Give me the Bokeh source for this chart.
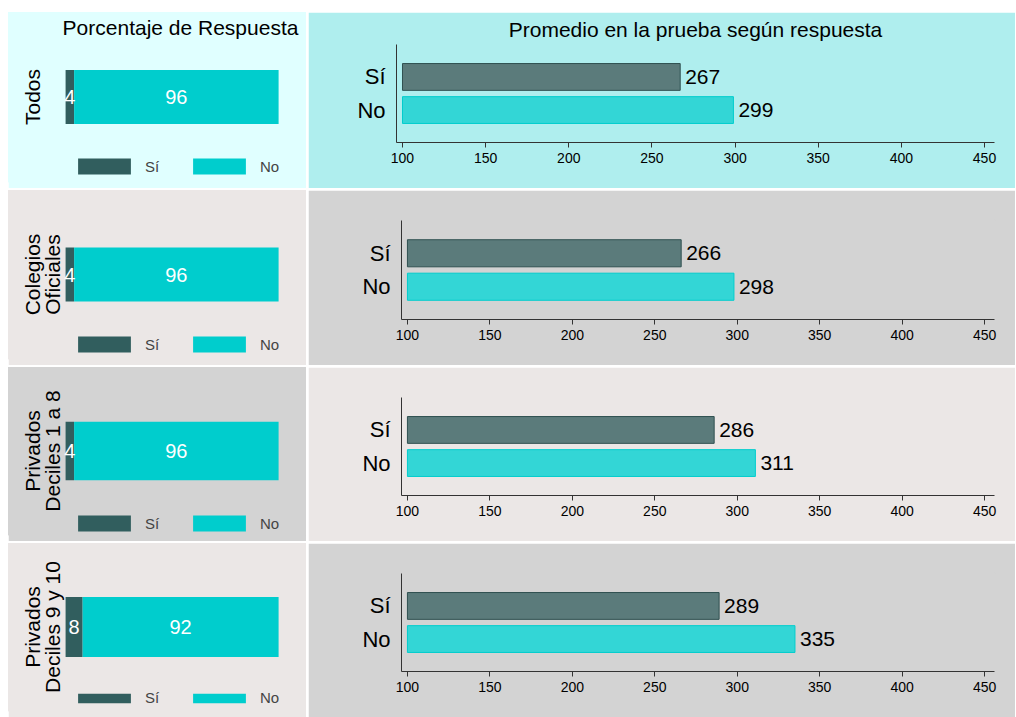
import math
from bokeh.plotting import figure
from bokeh.models import (ColumnDataSource, FactorRange, Range1d, LabelSet, Label,
                          Legend, LegendItem, FixedTicker)
from bokeh.transform import factor_cmap
from bokeh.layouts import row, column
from bokeh.embed import file_html
from bokeh.resources import INLINE
from bokeh.core.properties import value

# ---------------- data ----------------
groups = ["Todos", "Colegios\nOficiales", "Privados\nDeciles 1 a 8", "Privados\nDeciles 9 y 10"]
answers = ["Sí", "No"]
pct_si = [4, 4, 4, 8]
pct_no = [96, 96, 96, 92]
mean_si = [267, 266, 286, 289]
mean_no = [299, 298, 311, 335]
mean_base = 100
x_ticks = [100, 150, 200, 250, 300, 350, 400, 450]
left_title = "Porcentaje de Respuesta"
right_title = "Promedio en la prueba según respuesta"

# ---------------- style ----------------
FONT = "Liberation Sans"
C_SI = "#315e5e"
C_NO = "#00cdcd"
C_SI_R = "#5b7b7b"
C_SI_R_LINE = "#2f5050"
C_NO_R = "#33d6d6"
C_NO_R_LINE = "#00cdcd"
left_bg = ["#e0ffff", "#ebe7e6", "#d3d3d3", "#ebe7e6"]
right_bg = ["#afeeee", "#d3d3d3", "#ebe7e6", "#d3d3d3"]
row_h = [176, 175, 174, 174]
left_bar_h = [0.32, 0.32, 0.35, 0.36]
leg_y = [5, 4, 1, 4]
leg_gh = [20, 20, 20, 12]
right_min_left = [88, 93, 93, 93]
LW, RW = 298, 707

rows = []
for i, g in enumerate(groups):
    h = row_h[i]
    bg_l, bg_r = left_bg[i], right_bg[i]
    # ---------- left panel: stacked percentage bar ----------
    pl = figure(width=LW, height=h, x_range=Range1d(-26.8, 113.1),
                y_range=FactorRange(factors=[g]), title=None,
                x_axis_location=None, y_axis_location=None,
                toolbar_location=None, output_backend="svg",
                min_border_left=0, min_border_right=0, min_border_top=0, min_border_bottom=7,
                background_fill_color=bg_l, border_fill_color=bg_l,
                outline_line_color=bg_l, outline_line_width=2, frame_align=False)
    pl.xgrid.grid_line_color = None
    pl.ygrid.grid_line_color = None
    src = ColumnDataSource(dict(y=[g], Sí=[pct_si[i]], No=[pct_no[i]]))
    rs = pl.hbar_stack(answers, y="y", height=left_bar_h[i], color=[C_SI, C_NO],
                       line_color=None, source=src)
    lab_src = ColumnDataSource(dict(
        x=[pct_si[i] / 2, pct_si[i] + pct_no[i] / 2],
        y=[g, g],
        t=[str(pct_si[i]), str(pct_no[i])]))
    pl.add_layout(LabelSet(x="x", y="y", text="t", source=lab_src, text_color="white",
                           text_font=value(FONT), text_font_size="20px",
                           text_align="center", text_baseline="middle"))
    frame_h = h - 7
    pl.add_layout(Label(x=12, y=frame_h / 2, x_units="screen", y_units="screen", text=g,
                        angle=math.pi / 2, text_align="center", text_baseline="top",
                        text_font=FONT, text_font_size="21px", text_line_height=0.9,
                        text_color="black"))
    if i == 0:
        pl.add_layout(Label(x=172, y=frame_h - 15, x_units="screen", y_units="screen",
                            text=left_title, text_align="center", text_baseline="middle",
                            text_font=FONT, text_font_size="21px", text_color="black"))
    leg = Legend(items=[LegendItem(label=answers[0], renderers=[rs[0]]),
                        LegendItem(label=answers[1], renderers=[rs[1]])],
                 orientation="horizontal", location=(63, leg_y[i]),
                 glyph_width=66, glyph_height=leg_gh[i], label_standoff=8, spacing=21,
                 padding=0, margin=0, border_line_color=None, background_fill_alpha=0,
                 label_text_font=FONT, label_text_font_size="15px", label_height=leg_gh[i])
    pl.add_layout(leg)

    # ---------- right panel: mean score bars ----------
    pr = figure(width=RW, height=h, x_range=Range1d(96.4, 456),
                y_range=FactorRange(factors=["No", "Sí"], range_padding=0.48,
                                    range_padding_units="absolute"),
                toolbar_location=None, output_backend="svg",
                min_border_left=right_min_left[i], min_border_right=21,
                min_border_top=30, min_border_bottom=46,
                background_fill_color=bg_r, border_fill_color=bg_r,
                outline_line_color=bg_r, outline_line_width=2, frame_align=False,
                title=right_title if i == 0 else None)
    if i == 0:
        pr.title.align = "center"
        pr.title.text_font = FONT
        pr.title.text_font_style = "normal"
        pr.title.text_font_size = "21px"
        pr.title.standoff = 7
        pr.title.text_color = "black"
    rsrc = ColumnDataSource(dict(y=answers, x=[mean_si[i], mean_no[i]],
                                 t=[str(mean_si[i]), str(mean_no[i])]))
    pr.hbar(y="y", left=mean_base, right="x", height=0.81, source=rsrc,
            fill_color=factor_cmap("y", palette=[C_SI_R, C_NO_R], factors=answers),
            line_color=factor_cmap("y", palette=[C_SI_R_LINE, C_NO_R_LINE], factors=answers),
            line_width=1)
    pr.add_layout(LabelSet(x="x", y="y", text="t", source=rsrc, x_offset=5,
                           text_font=value(FONT), text_font_size="21px", text_color="black",
                           text_baseline="middle", text_align="left"))
    pr.xgrid.grid_line_color = None
    pr.ygrid.grid_line_color = None
    pr.xaxis.ticker = FixedTicker(ticks=x_ticks)
    pr.xaxis.minor_tick_line_color = None
    pr.xaxis.major_tick_out = 5
    pr.xaxis.major_tick_in = 0
    pr.xaxis.major_tick_line_color = "#333333"
    pr.xaxis.major_label_text_font = FONT
    pr.xaxis.major_label_text_font_size = "14px"
    pr.xaxis.major_label_text_color = "black"
    pr.yaxis.major_tick_line_color = None
    pr.yaxis.minor_tick_line_color = None
    pr.yaxis.major_label_standoff = 5
    pr.yaxis.major_label_text_font = FONT
    pr.yaxis.major_label_text_font_size = "22px"
    pr.yaxis.major_label_text_color = "black"
    pr.xaxis.axis_line_color = "#333333"
    pr.yaxis.axis_line_color = "#333333"

    rows.append(row(pl, pr, spacing=2))

layout = column(*rows, spacing=2, margin=(12, 0, 0, 8))
open("out.html", "w").write(file_html(layout, INLINE))
